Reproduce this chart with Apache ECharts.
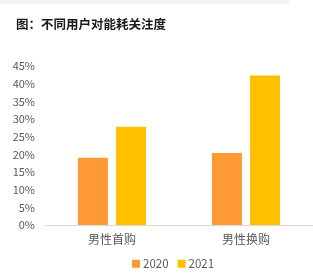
<!DOCTYPE html>
<html>
<head>
<meta charset="utf-8">
<script src="https://cdn.jsdelivr.net/npm/echarts@6/dist/echarts.min.js"></script>
<style>
html, body { margin: 0; padding: 0; background: #fff; }
#chart { width: 313px; height: 279px; }
</style>
</head>
<body>
<div id="chart"></div>
<script>
var categories = ['男性首购', '男性换购'];
var seriesNames = ['2020', '2021'];
var values2020 = [19, 20.4];
var values2021 = [27.8, 42.3];
var colors = ['#ff9933', '#ffc000'];

var chart = echarts.init(document.getElementById('chart'));
var font = '"Microsoft YaHei", "Noto Sans CJK SC", sans-serif';

var option = {
    animation: false,
    textStyle: { fontFamily: font },
    graphic: [{
        type: 'rect',
        left: 0,
        top: 0,
        shape: { width: 289, height: 4 },
        style: { fill: '#f2f2f2' }
    }],
    title: {
        text: '图：不同用户对能耗关注度',
        left: 11,
        top: 13,
        textStyle: { fontSize: 12.5, fontWeight: 'bold', color: '#1a1a1a', fontFamily: font }
    },
    legend: {
        data: seriesNames,
        top: 258,
        left: 132,
        padding: 0,
        itemWidth: 8,
        itemHeight: 8,
        itemGap: 9,
        icon: 'rect',
        textStyle: { color: '#595959', fontSize: 11.5, padding: [0, 0, 0, -2] }
    },
    grid: { left: 45, right: 0, top: 66, bottom: 54 },
    xAxis: {
        type: 'category',
        data: categories,
        axisLine: { lineStyle: { color: '#d9d9d9' } },
        axisTick: { show: false },
        axisLabel: { color: '#595959', fontSize: 12, margin: 8 }
    },
    yAxis: {
        type: 'value',
        min: 0,
        max: 45,
        interval: 5,
        axisLine: { show: false },
        axisTick: { show: false },
        splitLine: { show: false },
        axisLabel: { color: '#595959', fontSize: 11, margin: 10, formatter: '{value}%' }
    },
    series: [{
        name: seriesNames[0],
        type: 'bar',
        data: values2020,
        barWidth: 30,
        barGap: '27%',
        itemStyle: { color: colors[0] }
    }, {
        name: seriesNames[1],
        type: 'bar',
        data: values2021,
        barWidth: 30,
        barGap: '27%',
        itemStyle: { color: colors[1] }
    }]
};

chart.setOption(option);
window.addEventListener('resize', function() {
    chart.resize();
});
</script>
</body>
</html>
